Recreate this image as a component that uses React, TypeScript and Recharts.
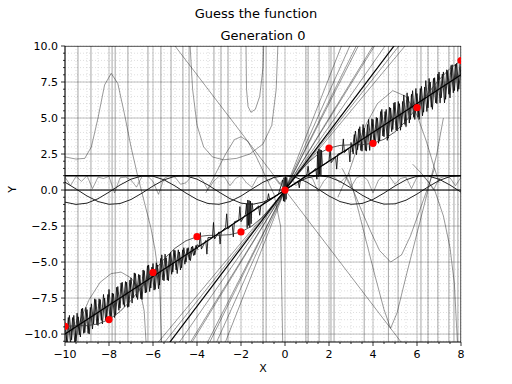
import React from 'react'
import { ComposedChart, Line, Scatter, XAxis, YAxis, CartesianGrid } from 'recharts'

type Pt = [number, number]

const X0 = -10
const X1 = 8
const Y0 = -10.55
const Y1 = 10

const xTicks = [-10, -8, -6, -4, -2, 0, 2, 4, 6, 8]
const yTicks = [-10, -7.5, -5, -2.5, 0, 2.5, 5, 7.5, 10]
const xMinor: number[] = []
for (let i = 0; i <= 36; i++) xMinor.push(-10 + i * 0.5)
const yMinor: number[] = []
for (let i = 0; i <= 41; i++) yMinor.push(-10.5 + i * 0.5)

// target samples (red dots)
const targetX = [-10, -8, -6, -4, -2, 0, 2, 4, 6, 8]
const targetY = [-9.46, -8.99, -5.72, -3.24, -2.91, 0, 2.91, 3.24, 5.72, 8.99]

// curves read at x = -10 .. 8 step 0.5
const halfStepX = [-10, -9.5, -9, -8.5, -8, -7.5, -7, -6.5, -6, -5.5, -5, -4.5, -4, -3.5, -3, -2.5, -2, -1.5, -1, -0.5, 0, 0.5, 1, 1.5, 2, 2.5, 3, 3.5, 4, 4.5, 5, 5.5, 6, 6.5, 7, 7.5, 8]
const sinY = [0.544, 0.075, -0.412, -0.798, -0.989, -0.938, -0.657, -0.215, 0.279, 0.706, 0.959, 0.978, 0.757, 0.351, -0.141, -0.598, -0.909, -0.997, -0.841, -0.479, 0, 0.479, 0.841, 0.997, 0.909, 0.598, 0.141, -0.351, -0.757, -0.978, -0.959, -0.706, -0.279, 0.215, 0.657, 0.938, 0.989]
const cosY = [-0.839, -0.997, -0.911, -0.602, -0.146, 0.347, 0.754, 0.977, 0.96, 0.709, 0.284, -0.211, -0.654, -0.936, -0.99, -0.801, -0.416, 0.071, 0.54, 0.878, 1, 0.878, 0.54, 0.071, -0.416, -0.801, -0.99, -0.936, -0.654, -0.211, 0.284, 0.709, 0.96, 0.977, 0.754, 0.347, -0.146]
const smoothY = [-9.456, -9.425, -9.412, -9.298, -8.989, -8.438, -7.657, -6.715, -5.721, -4.794, -4.041, -3.522, -3.243, -3.149, -3.141, -3.098, -2.909, -2.497, -1.841, -0.979, 0, 0.979, 1.841, 2.497, 2.909, 3.098, 3.141, 3.149, 3.243, 3.522, 4.041, 4.794, 5.721, 6.715, 7.657, 8.438, 8.989]

// wiggly gray curve, x = -10 .. 8 step 0.25
const wiggleY = [0.9, 0.3, 0.95, 0.6, 1.0, 0.1, 0.9, 0.8, 0.95, -0.2, 0.85, 0.9, 0.7, 0.2, 0.95, 0.98, 0.6, -0.3, 0.8, 1.0, 0.9, 0.4, 0.5, 0.95, 1.0, 0.7, 0.0, 0.6, 0.95, 0.9, 0.3, 0.8, 1.0, 0.5, 0.2, 0.9, 0.95, 0.6, 0.9, 0.4, 0.95, 1.0, 0.3, 0.7, 0.98, 0.8, -0.1, 0.6, 1.0, 0.9, 0.5, 0.9, 0.2, 0.85, 1.0, 0.7, -0.2, 0.7, 1.0, 0.95, 0.4, 0.8, 0.9, 0.1, 0.9, 1.0, 0.6, 0.0, 0.8, 0.95, 0.85, 0.3, 0.9]

// noisy band around y = x: offsets from the line (two interleaved strands)
const bandLeftOffsets = [0.8, -0.9, 1.1, -0.7, 0.9, -1.0, 0.6, -0.9, 1.0, -0.8, 0.7, -1.1, 0.9, -0.6, 1.0, -0.9, 0.8, -1.0, 0.7, -0.8, 1.1, -0.9, 0.6, -1.0, 0.9, -0.7, 1.0, -0.8, 0.8, -1.0, 0.9, -0.6, 1.0, -0.9, 0.7, -1.1, 0.8, -0.8, 1.0, -0.7, 0.9, -1.0, 0.6, -0.9, 1.1, -0.8, 0.7, -1.0, 0.9, -0.6, 0.8, -0.9, 0.5, -0.7, 0.6, -0.5, 0.4, -0.6, 0.3, -0.4, 0.2]
const bandLeftOffsets2 = [-0.7, 1.0, -0.9, 0.8, -1.1, 0.9, -0.7, 1.0, -0.8, 0.9, -1.0, 0.7, -0.9, 1.1, -0.8, 0.9, -0.7, 1.0, -0.9, 0.8, -1.0, 0.7, -1.1, 0.9, -0.8, 1.0, -0.6, 0.9, -1.0, 0.8, -0.9, 1.1, -0.7, 0.8, -1.0, 0.9, -0.8, 1.0, -0.9, 0.7, -1.0, 0.8, -1.1, 0.9, -0.7, 1.0, -0.9, 0.8, -0.7, 0.9, -0.6, 0.7, -0.8, 0.5, -0.6, 0.4, -0.5, 0.3, -0.4, 0.2, -0.2]
const bandMid: Pt[] = [[-3.9, 0], [-3.85, 0.9], [-3.8, -0.3], [-3.6, 0.1], [-3.55, -0.9], [-3.5, 0.2], [-3.3, 0], [-3.25, 1.0], [-3.2, -0.2], [-3.0, 0.1], [-2.95, -0.8], [-2.9, 0], [-2.7, 0.1], [-2.65, 1.0], [-2.6, -0.1], [-2.4, 0], [-2.35, -0.9], [-2.3, 0.1], [-2.1, 0], [-2.05, 0.9], [-2.0, -0.2], [-1.8, 0.1], [-1.75, 0.8], [-1.72, -0.9], [-1.69, 1.0], [-1.66, -0.8], [-1.63, 0.9], [-1.6, -1.0], [-1.57, 0.8], [-1.54, -0.8], [-1.5, 0.6], [-1.45, 0], [-1.2, 0.1], [-1.15, -0.6], [-1.1, 0], [-0.8, 0.1], [-0.75, 0.5], [-0.7, 0], [-0.3, 0], [-0.1, 0.8], [-0.07, -0.7], [-0.04, 0.9], [-0.01, -0.8], [0.02, 0.9], [0.05, -0.7], [0.08, 0.8], [0.12, 0], [0.6, 0], [0.65, -0.5], [0.7, 0], [1.0, 0.1], [1.05, 0.6], [1.1, 0], [1.4, 0.1], [1.45, -0.7], [1.48, 1.2], [1.51, -0.6], [1.54, 1.3], [1.57, -0.5], [1.6, 1.2], [1.63, -0.6], [1.66, 1.1], [1.7, 0], [2.0, 0], [2.05, 0.8], [2.1, -0.2], [2.3, 0], [2.35, -0.9], [2.4, 0.1], [2.6, 0], [2.65, 0.9], [2.7, -0.1], [2.9, 0], [2.95, -1.0]]
const bandRightOffsets = [0.3, -0.6, 0.9, -0.5, 1.0, -0.8, 0.7, -1.0, 1.1, -0.7, 0.9, -1.0, 0.8, -0.9, 1.2, -0.8, 1.0, -1.1, 0.9, -0.7, 1.1, -1.0, 0.8, -0.9, 1.2, -1.1, 0.9, -0.8, 1.1, -1.0, 0.7, -1.2, 1.0, -0.9, 1.2, -0.8, 0.9, -1.1, 1.0, -0.9, 1.2, -0.7, 1.0, -1.0, 0.9, -1.1, 1.1, -0.8, 1.0, -0.9, 0.6]
const bandRightOffsets2 = [-0.4, 0.7, -0.8, 0.9, -0.7, 1.0, -0.9, 0.8, -1.1, 1.0, -0.8, 0.9, -1.0, 1.1, -0.7, 0.9, -1.2, 1.0, -0.8, 1.1, -0.9, 1.0, -1.1, 0.8, -0.9, 1.2, -1.0, 0.9, -0.8, 1.1, -1.0, 0.9, -1.1, 0.8, -1.0, 1.2, -0.9, 1.0, -0.8, 1.1, -1.0, 0.9, -1.2, 1.0, -0.8, 1.1, -0.9, 1.0, -1.0, 0.8]

// straight lines (endpoints in data units)
const identityLine: Pt[] = [[-11, -11], [9, 9]]
const bestSlopeLine: Pt[] = [[-5.5, -11.1], [5.5, 11.1]]
const fanLines: Pt[][] = [
  [[-6, -11], [6, 11]],
  [[-5.8, -11.2], [5.8, 11.2]],
  [[-5, -11], [5, 11]],
  [[-4.6, -11.3], [4.6, 11.3]],
  [[-4.4, -11], [4.4, 11]],
  [[-3.7, -11.1], [3.7, 11.1]],
  [[-3.3, -11.2], [3.3, 11.2]],
  [[-2.9, -11.3], [2.9, 11.3]],
  [[-3.5, -10.8], [3.5, 10.8]],
]
const negLine: Pt[] = [[-5.5, 11], [5.5, -11]]
const oneLine: Pt[] = [[-11, 1], [9, 1]]
const zeroLine: Pt[] = [[-11, 0], [9, 0]]

// odd-shaped gray curves
const leftHump: Pt[] = [[-10.5, 2.4], [-10, 2.3], [-9.5, 2.15], [-9.1, 2.2], [-8.8, 3.0], [-8.5, 5.0], [-8.2, 7.3], [-7.9, 8.1], [-7.6, 7.4], [-7.3, 5.3], [-7.0, 3.0], [-6.7, 1.0], [-6.4, -0.8], [-6.1, -2.6], [-5.9, -4.2], [-5.7, -6.5], [-5.6, -11]]
const lowHump: Pt[] = [[-9.6, -11], [-9.3, -9.0], [-8.9, -7.6], [-8.4, -6.4], [-7.9, -5.8], [-7.45, -5.7], [-7.0, -6.1], [-6.6, -6.9], [-6.4, -8.4], [-6.3, -11]]
const narrowU: Pt[] = [[-1.78, 11], [-1.75, 7], [-1.68, 5.8], [-1.55, 5.4], [-1.35, 5.6], [-1.15, 6.5], [-1.0, 8.5], [-0.95, 11]]
const wideU: Pt[] = [[-4.35, 11], [-4.2, 7], [-4.0, 4.5], [-3.7, 3.0], [-3.3, 2.3], [-2.8, 2.1], [-2.2, 2.2], [-1.6, 2.5], [-1.0, 3.2], [-0.6, 4.5], [-0.4, 7], [-0.3, 11]]
const midHump: Pt[] = [[-3.6, -0.2], [-3.2, 1.0], [-2.7, 2.5], [-2.3, 3.5], [-2.0, 3.7], [-1.7, 3.4], [-1.3, 2.3], [-0.9, 1.0], [-0.5, -0.3], [-0.2, -2.5], [-0.1, -11]]
const rightU: Pt[] = [[2.6, 1.5], [3.1, 0], [3.5, -1.5], [3.9, -2.9], [4.3, -4.2], [4.8, -5.0], [5.3, -4.5], [5.7, -3.2], [6.1, -1.5], [6.5, 0.2], [6.8, 1.5]]
const rightV: Pt[] = [[2.9, 1.2], [3.1, 0], [3.6, -3.0], [4.1, -6.0], [4.5, -8.3], [4.8, -9.6], [5.1, -8.5], [5.5, -6.0], [6.0, -3.0], [6.5, 0.0], [6.9, 2.5], [7.2, 5]]
const rightHump: Pt[] = [[2.4, -0.5], [2.9, 1.2], [3.3, 3.0], [3.7, 4.6], [4.2, 6.0], [4.9, 6.9], [5.5, 6.5], [6.0, 5.2], [6.4, 3.5], [6.7, 2.0], [7.0, 0.5]]
const rightDrop: Pt[] = [[5.8, 1.8], [6.3, 1.0], [6.8, 0.0], [7.2, -1.8], [7.5, -4.0], [7.7, -6.5], [7.85, -11]]

// near-vertical branches (asymptotes)
const asymptoteX = [-9.41, -8.82, -7.86, -7.72, -7.14, -6.23, -5.64, -5.18, -4.64, -4.36, -3.23, -2.91, -2.59, -1.0, -0.86, 0.95, 1.05, 1.55, 2.09, 2.23, 3.6, 4.7, 5.14, 6.18, 6.5, 6.95, 7.45, 7.68, 7.86]

const toObj = (p: Pt[]) => p.map(([x, y]) => ({ x, y }))
const zipXY = (xs: number[], ys: number[]) => xs.map((x, i) => ({ x, y: ys[i] }))
const strand = (offsets: number[], start: number) =>
  offsets.map((o, i) => { const x = start + i * 0.1; return { x, y: x + o } })

const bandData = [
  ...strand(bandLeftOffsets, -10),
  ...bandMid.map(([x, o]) => ({ x, y: x + o })),
  ...strand(bandRightOffsets, 3),
]
const bandLeft2 = strand(bandLeftOffsets2, -9.95)
const bandRight2 = strand(bandRightOffsets2, 3.05)
const wiggleData = wiggleY.map((y, i) => ({ x: -10 + i * 0.25, y }))

const fmt = (v: number, d = 0) => v.toFixed(d).replace('-', '\u2212')

const FONT = 'DejaVu Sans, sans-serif'

const XTick = (props: any) => {
  const { x, y, payload } = props
  const major = xTicks.includes(payload.value)
  return (
    <g>
      <line x1={x} y1={y} x2={x} y2={y + (major ? 4 : 2)} stroke="#000" strokeWidth={0.8} />
      {major && (
        <text x={x} y={y + 16} textAnchor="middle" fontSize={11} fontFamily={FONT} fill="#000">
          {fmt(payload.value)}
        </text>
      )}
    </g>
  )
}

const YTick = (props: any) => {
  const { x, y, payload } = props
  const major = yTicks.includes(payload.value)
  return (
    <g>
      <line x1={x} y1={y} x2={x - (major ? 4 : 2)} y2={y} stroke="#000" strokeWidth={0.8} />
      {major && (
        <text x={x - 7} y={y + 4} textAnchor="end" fontSize={11} fontFamily={FONT} fill="#000">
          {fmt(payload.value, 1)}
        </text>
      )}
    </g>
  )
}

const px = (v: number, o: any) => o.left + ((v - X0) / (X1 - X0)) * o.width
const py = (v: number, o: any) => o.top + ((Y1 - v) / (Y1 - Y0)) * o.height

const gray = { stroke: '#000', strokeOpacity: 0.5, strokeWidth: 0.8 }

export default function App() {
  let k = 0
  const line = (data: { x: number; y: number }[], style: any) => (
    <Line
      key={k++}
      data={data}
      dataKey="y"
      type="linear"
      dot={false}
      activeDot={false}
      isAnimationActive={false}
      {...style}
    />
  )

  return (
    <div style={{ position: 'absolute', left: 0, top: 0, width: 512, height: 384, background: '#fff', fontFamily: FONT }}>
      <div style={{ position: 'absolute', top: 6, width: 512, textAlign: 'center', fontSize: 13, color: '#000' }}>
        Guess the function
      </div>
      <div style={{ position: 'absolute', top: 28, left: 65, width: 396, textAlign: 'center', fontSize: 13, color: '#000' }}>
        Generation 0
      </div>
      <ComposedChart width={512} height={384} margin={{ top: 46, right: 51, left: 0, bottom: 0 }}>
        <CartesianGrid
          stroke="#c8c8c8"
          strokeWidth={0.6}
          strokeDasharray="1 2"
          verticalCoordinatesGenerator={({ offset }: any) => xMinor.map((v) => px(v, offset))}
          horizontalCoordinatesGenerator={({ offset }: any) => yMinor.map((v) => py(v, offset))}
        />
        <CartesianGrid
          stroke="#b0b0b0"
          strokeWidth={0.8}
          verticalCoordinatesGenerator={({ offset }: any) => xTicks.map((v) => px(v, offset))}
          horizontalCoordinatesGenerator={({ offset }: any) => yTicks.map((v) => py(v, offset))}
        />
        <XAxis
          dataKey="x"
          type="number"
          domain={[X0, X1]}
          allowDataOverflow
          ticks={xMinor}
          interval={0}
          tick={<XTick />}
          tickLine={false}
          tickSize={0}
          tickMargin={0}
          height={42}
          stroke="#000"
          axisLine={{ stroke: '#000', strokeWidth: 1 }}
        />
        <YAxis
          type="number"
          domain={[Y0, Y1]}
          allowDataOverflow
          ticks={yMinor}
          interval={0}
          tick={<YTick />}
          tickLine={false}
          tickSize={0}
          tickMargin={0}
          width={65}
          axisLine={{ stroke: '#000', strokeWidth: 1 }}
        />
        <Scatter
          data={zipXY(targetX, targetY)}
          dataKey="y"
          fill="#ff0000"
          isAnimationActive={false}
          shape={(p: any) => <circle cx={p.cx} cy={p.cy} r={3.6} fill="#ff0000" />}
        />
        {asymptoteX.map((x) => line([{ x, y: -11 }, { x, y: 11 }], { ...gray, strokeOpacity: 0.45 }))}
        {line(wiggleData, { ...gray, strokeOpacity: 0.45 })}
        {line(toObj(leftHump), gray)}
        {line(toObj(lowHump), gray)}
        {line(toObj(narrowU), gray)}
        {line(toObj(wideU), gray)}
        {line(toObj(midHump), gray)}
        {line(toObj(rightU), gray)}
        {line(toObj(rightV), gray)}
        {line(toObj(rightHump), gray)}
        {line(toObj(rightDrop), gray)}
        {line(toObj(negLine), gray)}
        {fanLines.map((f) => line(toObj(f), gray))}
        {line(bandData, { stroke: '#000', strokeWidth: 0.8 })}
        {line(bandLeft2, { stroke: '#000', strokeWidth: 0.8 })}
        {line(bandRight2, { stroke: '#000', strokeWidth: 0.8 })}
        {line(zipXY(halfStepX, sinY), { stroke: '#222', strokeWidth: 1 })}
        {line(zipXY(halfStepX, cosY), { stroke: '#222', strokeWidth: 1 })}
        {line(zipXY(halfStepX, smoothY), { stroke: '#333', strokeWidth: 0.8 })}
        {line(toObj(oneLine), { stroke: '#000', strokeWidth: 1.5 })}
        {line(toObj(zeroLine), { stroke: '#000', strokeWidth: 1 })}
        {line(toObj(identityLine), { stroke: '#000', strokeWidth: 1.2 })}
        {line(toObj(bestSlopeLine), { stroke: '#000', strokeWidth: 1.2 })}
        {line([{ x: X0, y: Y1 }, { x: X1, y: Y1 }], { stroke: '#000', strokeWidth: 1 })}
        {line([{ x: X1, y: Y0 }, { x: X1, y: Y1 }], { stroke: '#000', strokeWidth: 1 })}
      </ComposedChart>
      <div style={{ position: 'absolute', top: 362, left: 65, width: 396, textAlign: 'center', fontSize: 11, color: '#000' }}>
        X
      </div>
      <div style={{ position: 'absolute', left: 9, top: 183, fontSize: 11, color: '#000', transform: 'rotate(-90deg)' }}>
        Y
      </div>
    </div>
  )
}
